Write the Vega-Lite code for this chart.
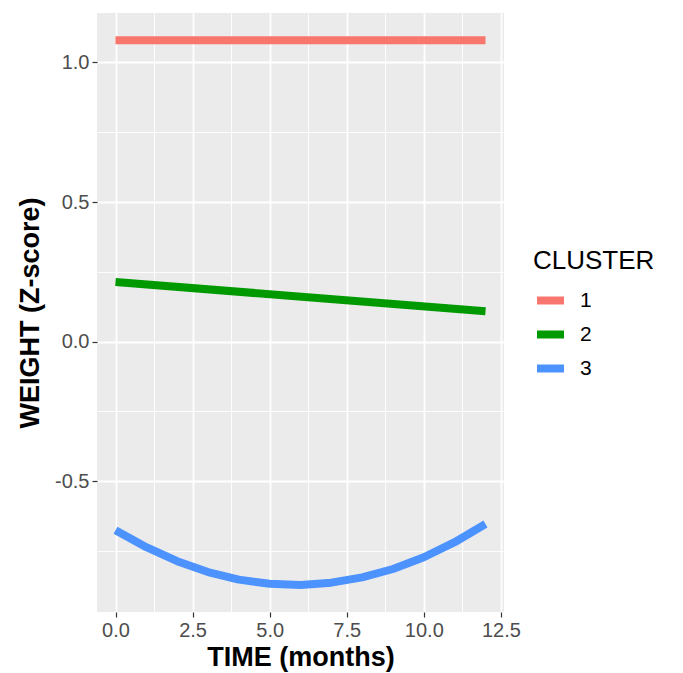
{
  "$schema": "https://vega.github.io/schema/vega-lite/v6.json",
  "width": 407,
  "height": 599,
  "autosize": "none",
  "padding": {"left": 97, "top": 13, "right": 179, "bottom": 61},
  "background": "white",
  "config": {
    "view": {"fill": "#EBEBEB", "stroke": null},
    "font": "Liberation Sans"
  },
  "data": {
    "values": [
      {"time": 0, "weight": 1.079, "cluster": "1"},
      {"time": 12, "weight": 1.079, "cluster": "1"},
      {"time": 0, "weight": 0.2136, "cluster": "2"},
      {"time": 12, "weight": 0.109, "cluster": "2"},
      {"time": 0, "weight": -0.675, "cluster": "3"},
      {"time": 1, "weight": -0.736, "cluster": "3"},
      {"time": 2, "weight": -0.786, "cluster": "3"},
      {"time": 3, "weight": -0.825, "cluster": "3"},
      {"time": 4, "weight": -0.852, "cluster": "3"},
      {"time": 5, "weight": -0.867, "cluster": "3"},
      {"time": 6, "weight": -0.871, "cluster": "3"},
      {"time": 7, "weight": -0.863, "cluster": "3"},
      {"time": 8, "weight": -0.844, "cluster": "3"},
      {"time": 9, "weight": -0.814, "cluster": "3"},
      {"time": 10, "weight": -0.772, "cluster": "3"},
      {"time": 11, "weight": -0.718, "cluster": "3"},
      {"time": 12, "weight": -0.653, "cluster": "3"}
    ]
  },
  "mark": {"type": "line", "strokeWidth": 8, "strokeCap": "butt", "strokeJoin": "round"},
  "encoding": {
    "x": {
      "field": "time",
      "type": "quantitative",
      "scale": {"domain": [-0.6, 12.6], "nice": false, "zero": false},
      "axis": {
        "title": "TIME (months)",
        "titleFont": "Liberation Sans",
        "titleFontSize": 27,
        "titleFontWeight": "bold",
        "titleColor": "black",
        "titlePadding": 4,
        "values": [0, 1.25, 2.5, 3.75, 5, 6.25, 7.5, 8.75, 10, 11.25, 12.5],
        "labelExpr": "datum.value % 2.5 == 0 ? format(datum.value, '.1f') : ''",
        "labelFontSize": 20,
        "labelColor": "#4D4D4D",
        "labelPadding": 3,
        "labelFlush": false,
        "labelOverlap": false,
        "domain": false,
        "tickColor": "#333333",
        "tickSize": 5,
        "tickWidth": 1.2,
        "tickOpacity": {"condition": {"test": "datum.value % 2.5 == 0", "value": 1}, "value": 0},
        "grid": true,
        "gridColor": "white",
        "gridWidth": {"condition": {"test": "datum.value % 2.5 == 0", "value": 1.8}, "value": 0.9}
      }
    },
    "y": {
      "field": "weight",
      "type": "quantitative",
      "scale": {"domain": [-0.968, 1.177], "nice": false, "zero": false},
      "axis": {
        "title": "WEIGHT (Z-score)",
        "titleFont": "Liberation Sans",
        "titleFontSize": 27,
        "titleFontWeight": "bold",
        "titleColor": "black",
        "titlePadding": 10,
        "values": [-0.75, -0.5, -0.25, 0, 0.25, 0.5, 0.75, 1.0],
        "labelExpr": "datum.value % 0.5 == 0 ? replace(format(datum.value, '.1f'), '\u2212', '-') : ''",
        "labelFontSize": 20,
        "labelColor": "#4D4D4D",
        "labelPadding": 3,
        "labelFlush": false,
        "labelOverlap": false,
        "domain": false,
        "tickColor": "#333333",
        "tickSize": 5,
        "tickWidth": 1.2,
        "tickOpacity": {"condition": {"test": "datum.value % 0.5 == 0", "value": 1}, "value": 0},
        "grid": true,
        "gridColor": "white",
        "gridWidth": {"condition": {"test": "datum.value % 0.5 == 0", "value": 1.8}, "value": 0.9}
      }
    },
    "color": {
      "field": "cluster",
      "type": "nominal",
      "scale": {"domain": ["1", "2", "3"], "range": ["#F8766D", "#009A00", "#4D93FF"]},
      "legend": {
        "title": "CLUSTER",
        "orient": "none",
        "legendX": 436,
        "legendY": 235,
        "padding": 0,
        "titleFont": "Liberation Sans",
        "titleFontSize": 26,
        "titleFontWeight": "normal",
        "titleColor": "black",
        "titlePadding": 9,
        "labelFont": "Liberation Sans",
        "labelFontSize": 21,
        "labelColor": "black",
        "labelOffset": 12,
        "symbolType": "stroke",
        "symbolSize": 729,
        "symbolStrokeWidth": 8,
        "rowPadding": 0,
        "symbolOffset": 0
      }
    }
  }
}
